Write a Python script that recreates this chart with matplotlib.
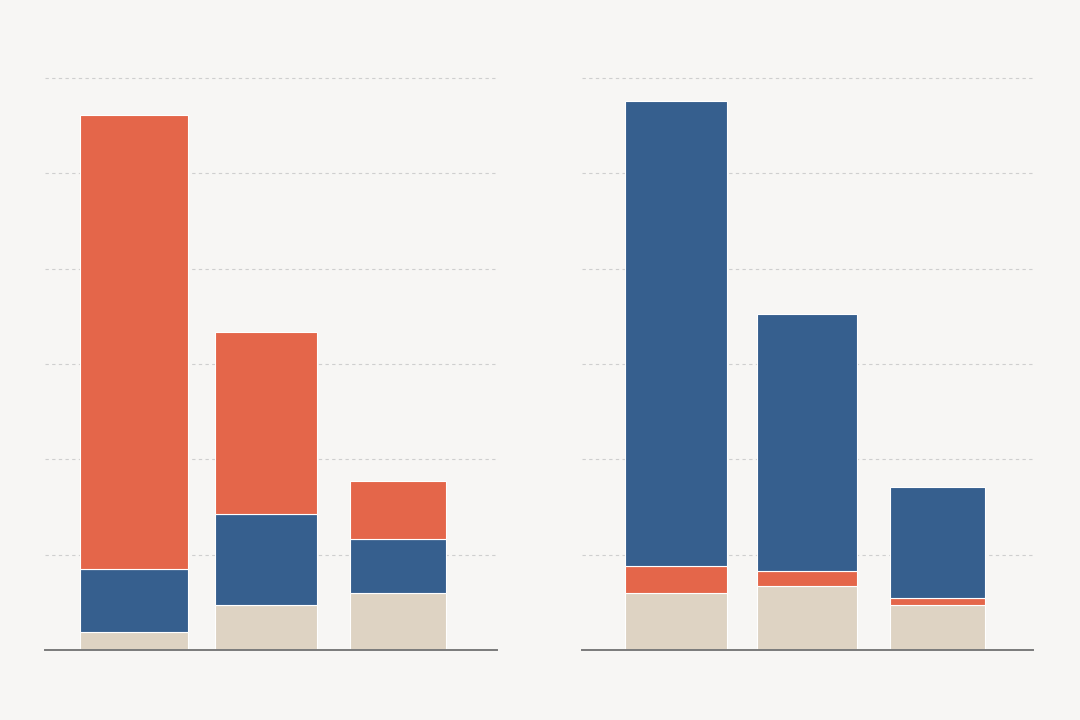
import numpy as np
import matplotlib.pyplot as plt

# values (one grid step = 10)
left_beige = [1.9, 4.7, 6.0]
left_blue = [6.6, 9.6, 5.6]
left_red = [47.6, 19.1, 6.1]

right_beige = [6.0, 6.7, 4.7]
right_red = [2.8, 1.6, 0.8]
right_blue = [48.8, 26.9, 11.6]

bg = "#f7f6f4"
red = "#e4664a"
blue = "#365f8e"
beige = "#ded3c3"

fig = plt.figure(figsize=(10.8, 7.2), dpi=100, facecolor=bg)


def panel(rect, stacks, colors, widths, xlim):
    ax = fig.add_axes(rect, facecolor=bg)
    x = np.arange(len(stacks[0]))
    bottom = np.zeros(len(x))
    for vals, c in zip(stacks, colors):
        ax.bar(x, vals, bottom=bottom, width=widths, color=c,
               edgecolor="white", linewidth=0.8, zorder=3)
        bottom += np.array(vals)
    ax.set_xlim(*xlim)
    ax.set_ylim(0, 62)
    ax.set_yticks([10, 20, 30, 40, 50, 60])
    ax.yaxis.grid(True, color="#cfcfcf", linestyle=(0, (3, 3)), linewidth=0.8, zorder=0)
    ax.tick_params(left=False, bottom=False, labelleft=False, labelbottom=False)
    for s in ["top", "right", "left"]:
        ax.spines[s].set_visible(False)
    ax.spines["bottom"].set_color("#7a7a7a")
    ax.spines["bottom"].set_linewidth(1.4)
    ax.spines["bottom"].set_zorder(4)
    return ax


bottom_frac = 1 - 650 / 720
height_frac = 62 * (572 / 60) / 720

panel([45 / 1080, bottom_frac, 452 / 1080, height_frac],
      [left_beige, left_blue, left_red], [beige, blue, red],
      [0.82, 0.78, 0.73], (-0.674, 2.75))

panel([582 / 1080, bottom_frac, 451 / 1080, height_frac],
      [right_beige, right_red, right_blue], [beige, red, blue],
      [0.78, 0.76, 0.73], (-0.72, 2.73))

fig.savefig("out.png", dpi=100, facecolor=bg)
